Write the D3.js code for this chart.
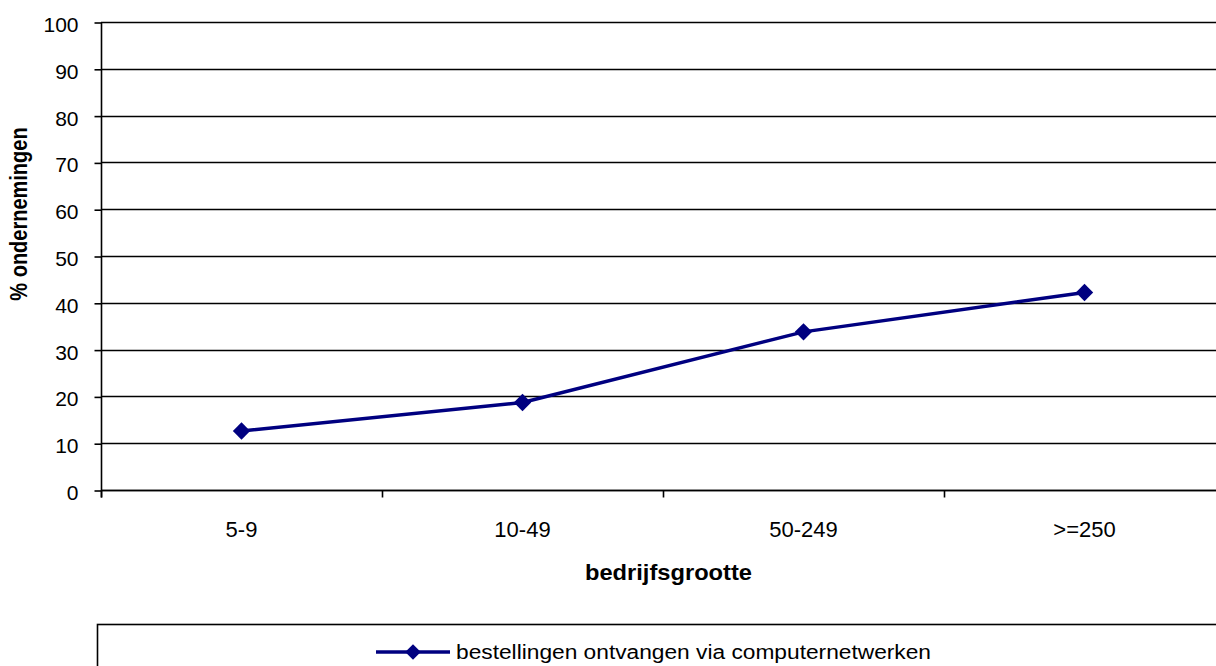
<!DOCTYPE html>
<html>
<head>
<meta charset="utf-8">
<script src="https://cdn.jsdelivr.net/npm/d3@7/dist/d3.min.js"></script>
<style>
  html, body { margin: 0; padding: 0; background: #fff; }
  svg { display: block; font-family: "Liberation Sans", Arial, sans-serif; }
</style>
</head>
<body>
<svg id="chart" width="1216" height="666"></svg>
<script>
// Share of enterprises receiving orders via computer networks, by company size
const categories = ["5-9", "10-49", "50-249", ">=250"];
const values = [12.6, 18.7, 33.8, 42.2];
const yTicks = [0, 10, 20, 30, 40, 50, 60, 70, 80, 90, 100];
const seriesName = "bestellingen ontvangen via computernetwerken";
const xTitle = "bedrijfsgrootte";
const yTitle = "% ondernemingen";

const svg = d3.select("#chart");
const W = 1216, H = 666;
svg.append("rect").attr("width", W).attr("height", H).attr("fill", "#fff");

const plot = { left: 101, right: 1225, top: 22, bottom: 490 };
const lineColor = "#000080";

const x = d3.scaleBand().domain(categories).range([plot.left, plot.right]).padding(0);
const y = d3.scaleLinear().domain([0, 100]).range([plot.bottom, plot.top]);

// horizontal gridlines
svg.append("g").selectAll("line").data(yTicks).join("line")
  .attr("x1", plot.left).attr("x2", plot.right)
  .attr("y1", d => Math.round(y(d)) + 0.5).attr("y2", d => Math.round(y(d)) + 0.5)
  .attr("stroke", "#000").attr("stroke-width", 1.6);

// y axis
const yAxis = d3.axisLeft(y).tickValues(yTicks).tickSize(7).tickPadding(16).tickFormat(d3.format("d"));
const gy = svg.append("g").attr("transform", `translate(${plot.left + 0.5},0.5)`).call(yAxis);
gy.select(".domain").attr("d", `M0,${plot.top}V${plot.bottom + 7}`).attr("stroke", "#000").attr("stroke-width", 1.6);
gy.selectAll(".tick line").attr("stroke", "#000").attr("stroke-width", 1.6);
gy.selectAll(".tick text").attr("font-size", 21).attr("fill", "#000")
  .attr("font-family", "Liberation Sans, Arial, sans-serif").attr("dy", "0.43em");

// x axis: ticks between categories
const gx = svg.append("g").attr("transform", `translate(0,${plot.bottom + 0.5})`);
const boundaries = categories.map(c => x(c)).concat([x(categories[categories.length - 1]) + x.bandwidth()]);
gx.append("line").attr("x1", plot.left).attr("x2", plot.right).attr("y1", 0).attr("y2", 0)
  .attr("stroke", "#000").attr("stroke-width", 1.6);
gx.selectAll("line.tk").data(boundaries).join("line").attr("class", "tk")
  .attr("x1", d => Math.round(d) + 0.5).attr("x2", d => Math.round(d) + 0.5)
  .attr("y1", 0).attr("y2", 7).attr("stroke", "#000").attr("stroke-width", 1.6);
gx.selectAll("text").data(categories).join("text")
  .attr("x", d => x(d) + x.bandwidth() / 2).attr("y", 46)
  .attr("text-anchor", "middle").attr("font-size", 22).attr("fill", "#000").text(d => d);

// axis titles
svg.append("text").attr("x", 585).attr("y", 580)
  .attr("font-size", 22).attr("font-weight", "bold")
  .attr("textLength", 167).attr("lengthAdjust", "spacingAndGlyphs").text(xTitle);
svg.append("text").attr("transform", "translate(27,214) scale(1.2,1) rotate(-90)").attr("text-anchor", "middle")
  .attr("font-size", 20).attr("font-weight", "bold").text(yTitle);

// series line and diamond markers
const pts = categories.map((c, i) => [x(c) + x.bandwidth() / 2, y(values[i])]);
svg.append("path").attr("d", d3.line()(pts)).attr("fill", "none")
  .attr("stroke", lineColor).attr("stroke-width", 3.4).attr("stroke-linejoin", "round");
const marker = d3.symbol().type(d3.symbolSquare).size(150);
svg.append("g").selectAll("path").data(pts).join("path")
  .attr("transform", d => `translate(${d[0]},${d[1]}) rotate(45)`)
  .attr("d", marker).attr("fill", lineColor);

// legend
svg.append("rect").attr("x", 97.5).attr("y", 624.5).attr("width", 1200).attr("height", 100)
  .attr("fill", "none").attr("stroke", "#000").attr("stroke-width", 1.6);
const lg = svg.append("g").attr("transform", "translate(0,652)");
lg.append("line").attr("x1", 376).attr("x2", 450).attr("y1", 0).attr("y2", 0)
  .attr("stroke", lineColor).attr("stroke-width", 3.4);
lg.append("path").attr("transform", "translate(413,0) rotate(45)")
  .attr("d", d3.symbol().type(d3.symbolSquare).size(120)).attr("fill", lineColor);
lg.append("text").attr("x", 456).attr("y", 7).attr("font-size", 20).attr("fill", "#000")
  .attr("textLength", 475).attr("lengthAdjust", "spacingAndGlyphs").text(seriesName);
</script>
</body>
</html>
